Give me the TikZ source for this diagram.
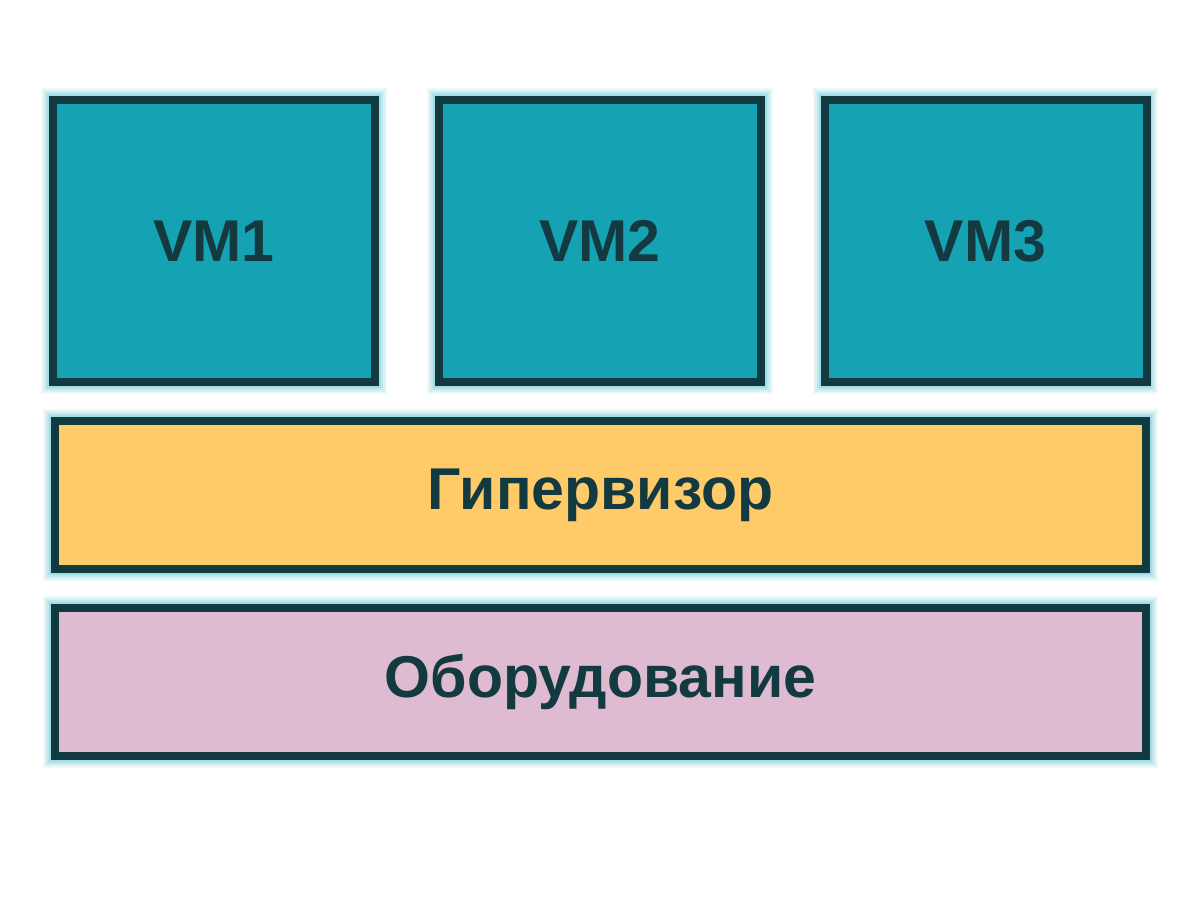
\documentclass[tikz,border=0pt]{standalone}
\usepackage{fontspec}
\setmainfont{Liberation Sans}
\definecolor{vmfill}{HTML}{15A3B3}
\definecolor{hvfill}{HTML}{FFCB69}
\definecolor{hwfill}{HTML}{DEBBD1}
\definecolor{dark}{HTML}{133A40}
\definecolor{glowc}{HTML}{6FCDD8}
\tikzset{
  layer/.style={draw=dark, line width=8pt, inner sep=0pt, font=\fontsize{59}{68}\selectfont\bfseries, text=dark},
  vmbox/.style={layer, fill=vmfill, minimum width=322pt, minimum height=282pt},
  hvbox/.style={layer, fill=hvfill, minimum width=1091pt, minimum height=148pt},
  hwbox/.style={layer, fill=hwfill, minimum width=1091pt, minimum height=148pt},
}
\newcommand{\myglow}[4]{%
  \foreach \d/\o in {8/0.12,6/0.18,4/0.25,2/0.35}{
    \fill[glowc, opacity=\o] (#1-\d,#2-\d) rectangle (#3+\d,#4+\d);
  }}
\begin{document}
\begin{tikzpicture}[x=1pt,y=-1pt]
\useasboundingbox (0,0) rectangle (1200,900);
\fill[white] (0,0) rectangle (1200,900);
\myglow{49}{96}{379}{386}
\myglow{435}{96}{765}{386}
\myglow{821}{96}{1150}{386}
\myglow{51}{417}{1150}{573}
\myglow{51}{604}{1150}{760}
\node[vmbox] (vm1) at (214,241) {VM1};
\node[vmbox] (vm2) at (600,241) {VM2};
\node[vmbox] (vm3) at (985.5,241) {VM3};
\node[hvbox] (hv) at (600.5,495) {Гипервизор};
\node[hwbox] (hw) at (600.5,682) {Оборудование};
\end{tikzpicture}
\end{document}
